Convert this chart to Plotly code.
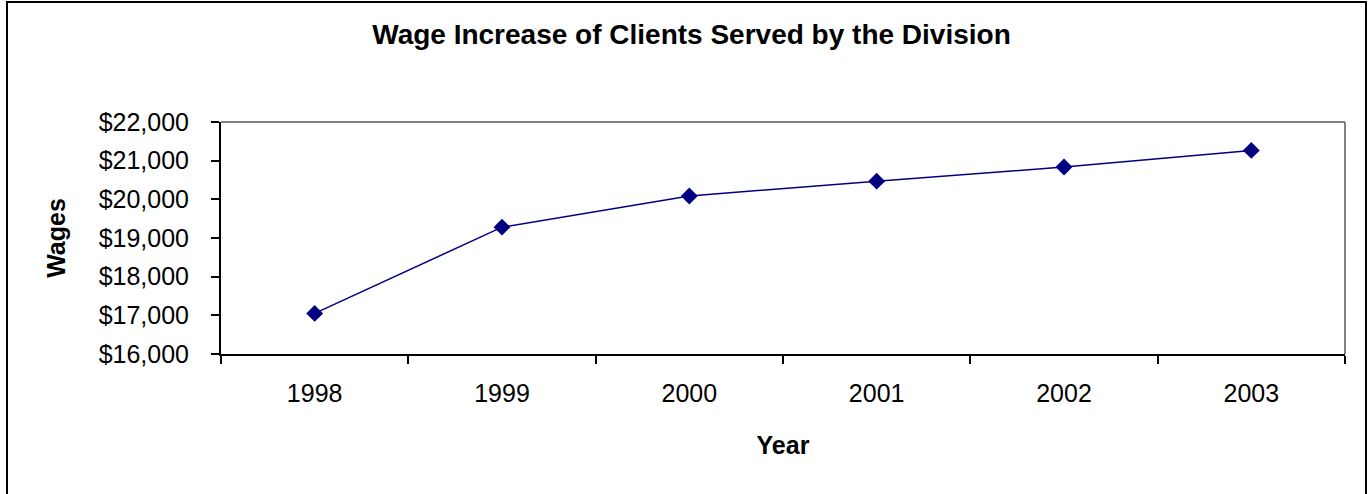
import plotly.graph_objects as go

years = ["1998", "1999", "2000", "2001", "2002", "2003"]
wages = [17050, 19280, 20085, 20470, 20835, 21265]

W, H = 1370, 494
L, R, T, B = 221, 1345, 122, 354
pw, ph = R - L, B - T

def px_x(x):
    return (x - L) / pw

def px_y(y):
    return (B - y) / ph

font_family = "Arial, Liberation Sans, sans-serif"

fig = go.Figure()
fig.add_trace(go.Scatter(
    x=years, y=wages, mode="lines+markers",
    line=dict(color="#000080", width=1.5),
    marker=dict(symbol="diamond", size=13, color="#000080"),
    showlegend=False, cliponaxis=False,
))

fig.update_layout(
    width=W, height=H,
    margin=dict(l=L, r=W - R, t=T, b=H - B, pad=0),
    paper_bgcolor="white", plot_bgcolor="white",
    font=dict(family=font_family, color="black", size=25),
    title=dict(text="<b>Wage Increase of Clients Served by the Division</b>",
               x=(370 + 1013) / 2 / W, xanchor="center", xref="container",
               y=1 - 34 / H, yanchor="middle", yref="container",
               font=dict(size=28, family=font_family, color="black")),
    xaxis=dict(
        type="category", range=[-0.5, 5.5],
        showline=True, linecolor="black", linewidth=2,
        ticks="outside", tickson="boundaries", ticklen=8, tickwidth=2, tickcolor="black",
        showgrid=False, zeroline=False,
        tickfont=dict(size=25), ticklabelstandoff=16,
        title=dict(text="<b>Year</b>", font=dict(size=25), standoff=30),
    ),
    yaxis=dict(
        range=[16000, 22000], dtick=1000, tickprefix="$", tickformat=",d",
        showline=True, linecolor="black", linewidth=2,
        ticks="outside", ticklen=8, tickwidth=2, tickcolor="black",
        showgrid=False, zeroline=False,
        tickfont=dict(size=25), ticklabelstandoff=17,
        title=dict(text="<b>Wages</b>", font=dict(size=25), standoff=26),
    ),
    shapes=[
        dict(type="line", xref="paper", yref="paper", x0=0, x1=1, y0=1, y1=1,
             line=dict(color="#808080", width=2)),
        dict(type="line", xref="paper", yref="paper", x0=1, x1=1, y0=0, y1=1,
             line=dict(color="#808080", width=2)),
        dict(type="rect", xref="paper", yref="paper",
             x0=px_x(7), x1=px_x(1366), y0=px_y(520), y1=px_y(2),
             line=dict(color="black", width=2), fillcolor="rgba(0,0,0,0)"),
    ],
)

fig.write_html("out.html",
               config={"displayModeBar": False},
               post_script="document.body.style.margin='0';document.body.style.overflow='hidden';")
